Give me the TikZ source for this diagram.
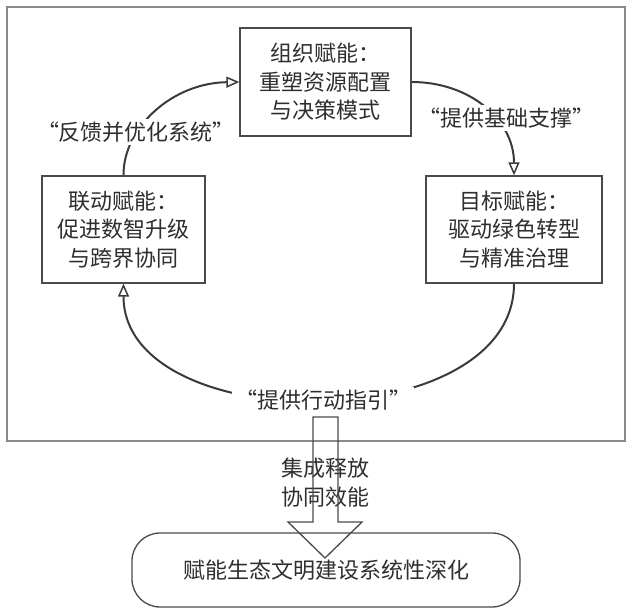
\documentclass[tikz,border=0pt]{standalone}
\usepackage{fontspec}
\newfontfamily\cjk{Noto Sans CJK SC}
\usetikzlibrary{arrows.meta}
\pgfdeclarelayer{bg}
\pgfsetlayers{bg,main}
\definecolor{txt}{HTML}{2E2E2E}
\definecolor{boxc}{HTML}{4A4A4A}
\definecolor{linec}{HTML}{3A3A3A}
\definecolor{framec}{HTML}{8A8A8A}
\tikzset{
  cjkfont/.style={font=\cjk\fontsize{22}{28.5}\selectfont},
  box/.style={cjkfont, draw=boxc, line width=1.3pt, fill=white, align=center, text=txt, inner sep=0pt},
  lbl/.style={cjkfont, fill=white, inner sep=3pt, text=txt},
  conn/.style={draw=linec, line width=2pt},
  tip/.style={-{Triangle[open, length=13pt, width=11pt, line width=1.5pt]}},
  blockarrow/.style={draw=boxc, line width=1.3pt},
  framebox/.style={draw=framec, line width=1.5pt},
}
\begin{document}
\begin{tikzpicture}[x=1pt,y=-1pt]
\useasboundingbox (0,0) rectangle (627,609);
% nodes
\node[box, minimum width=171pt, minimum height=108pt] (org) at (325.5,82) {组织赋能：\\重塑资源配置\\与决策模式};
\node[box, minimum width=163pt, minimum height=107pt] (lnk) at (123.5,229.5) {联动赋能：\\促进数智升级\\与跨界协同};
\node[box, minimum width=176pt, minimum height=107pt] (tgt) at (514,229.5) {目标赋能：\\驱动绿色转型\\与精准治理};
\node[box, rounded corners=28pt, minimum width=388pt, minimum height=74pt] (res) at (326,570) {赋能生态文明建设系统性深化};
\node[lbl] (fb) at (136,132) {“反馈并优化系统”};
\node[lbl] (sp) at (506,118) {“提供基础支撑”};
\node[lbl] (ac) at (323,400) {“提供行动指引”};
\node[cjkfont, text=txt, align=center, inner sep=0pt] (rel) at (325,482.5) {集成释放\\协同效能};
% connectors and frame
\begin{pgfonlayer}{bg}
\draw[framebox] (7,7) rectangle (625,441);
\draw[conn, tip] (lnk.north) .. controls (123,128) and (172,83) .. (org.west);
\draw[conn, tip] (org.east) .. controls (470,82) and (514,120) .. (tgt.north);
\draw[conn, tip] (tgt.south) .. controls (514,439) and (123.5,439) .. (lnk.south);
\end{pgfonlayer}
% block arrow
\draw[blockarrow] (313,417) -- (313,522) -- (288,522) -- (325,558) -- (362,522) -- (338,522) -- (338,417) -- cycle;
\end{tikzpicture}
\end{document}
